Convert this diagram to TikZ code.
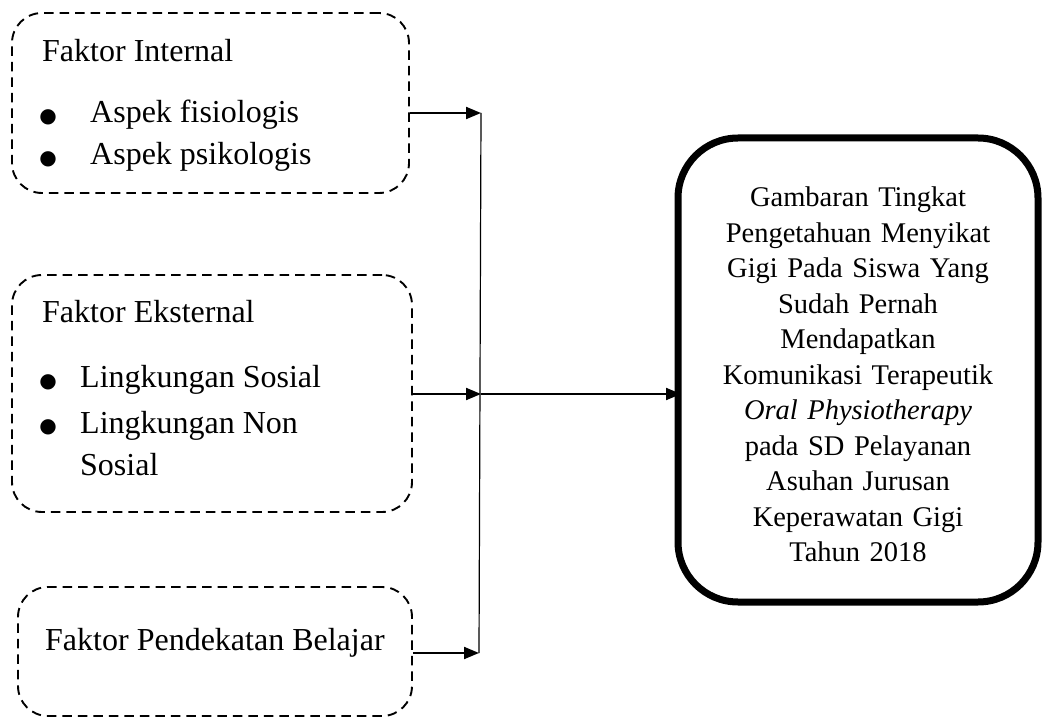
\documentclass[tikz,border=0pt]{standalone}
\usepackage{fontspec}
\setmainfont{Liberation Serif}
\newfontfamily\symfont{DejaVu Sans}
\usetikzlibrary{arrows.meta}
\begin{document}
\begin{tikzpicture}[x=1pt,y=-1pt,
  dbox/.style={draw, line width=1.9pt, dash pattern=on 9.5pt off 6pt, rounded corners=30pt, inner sep=0pt, rectangle},
  mainbox/.style={draw, line width=7pt, rounded corners=60pt, inner sep=0pt, rectangle},
  lefttxt/.style={anchor=base west, inner sep=0pt, font=\fontsize{32}{38}\selectfont},
  bul/.style={anchor=center, inner sep=0pt, font=\symfont\fontsize{20}{24}\selectfont},
  feed/.style={line width=2pt, -{Triangle[length=15pt,width=12pt]}},
  trunk/.style={line width=1.2pt}
]
\useasboundingbox (0,0) rectangle (1042,719);
% boxes
\node[dbox, minimum width=397pt, minimum height=180pt] (b1) at (210.5,103) {};
\node[dbox, minimum width=400pt, minimum height=237pt] (b2) at (212,393.5) {};
\node[dbox, minimum width=394pt, minimum height=129pt] (b3) at (215,651.5) {};
\node[mainbox, minimum width=360pt, minimum height=464pt] (m) at (858,370) {};
% box 1 text
\node[lefttxt] (t1) at (42,62) {Faktor Internal};
\node[bul] (p1a) at (48,117) {●};
\node[lefttxt] (t1a) at (90,123) {Aspek fisiologis};
\node[bul] (p1b) at (48,159) {●};
\node[lefttxt] (t1b) at (90,165) {Aspek psikologis};
% box 2 text
\node[lefttxt] (t2) at (42,323) {Faktor Eksternal};
\node[bul] (p2a) at (48,382) {●};
\node[lefttxt] (t2a) at (80,388) {Lingkungan Sosial};
\node[bul] (p2b) at (48,427) {●};
\node[lefttxt] (t2b) at (80,433) {Lingkungan Non};
\node[lefttxt] (t2c) at (80,475) {Sosial};
% box 3 text
\node[lefttxt] (t3) at (45,650) {Faktor Pendekatan Belajar};
% main text
\node[anchor=base, inner sep=0pt, align=center, text width=350pt,
      font=\fontsize{28.5}{35.5}\selectfont] (mt) at (858,207)
  {Gambaran Tingkat\\ Pengetahuan Menyikat\\ Gigi Pada Siswa Yang\\ Sudah Pernah\\ Mendapatkan\\ Komunikasi Terapeutik\\ \textit{Oral Physiotherapy}\\ pada SD Pelayanan\\ Asuhan Jurusan\\ Keperawatan Gigi\\ Tahun 2018};
% connectors
\coordinate (v1) at (481,113);
\coordinate (v2) at (481,394);
\coordinate (v3) at (479,653);
\coordinate (tgt) at (681,394);
\draw[trunk] (v1) -- (v3);
\draw[feed] (b1.east |- v1) -- (v1);
\draw[feed] (b2.east |- v2) -- (v2);
\draw[feed] (b3.east |- v3) -- (v3);
\draw[feed] (v2) -- (tgt);
\end{tikzpicture}
\end{document}
